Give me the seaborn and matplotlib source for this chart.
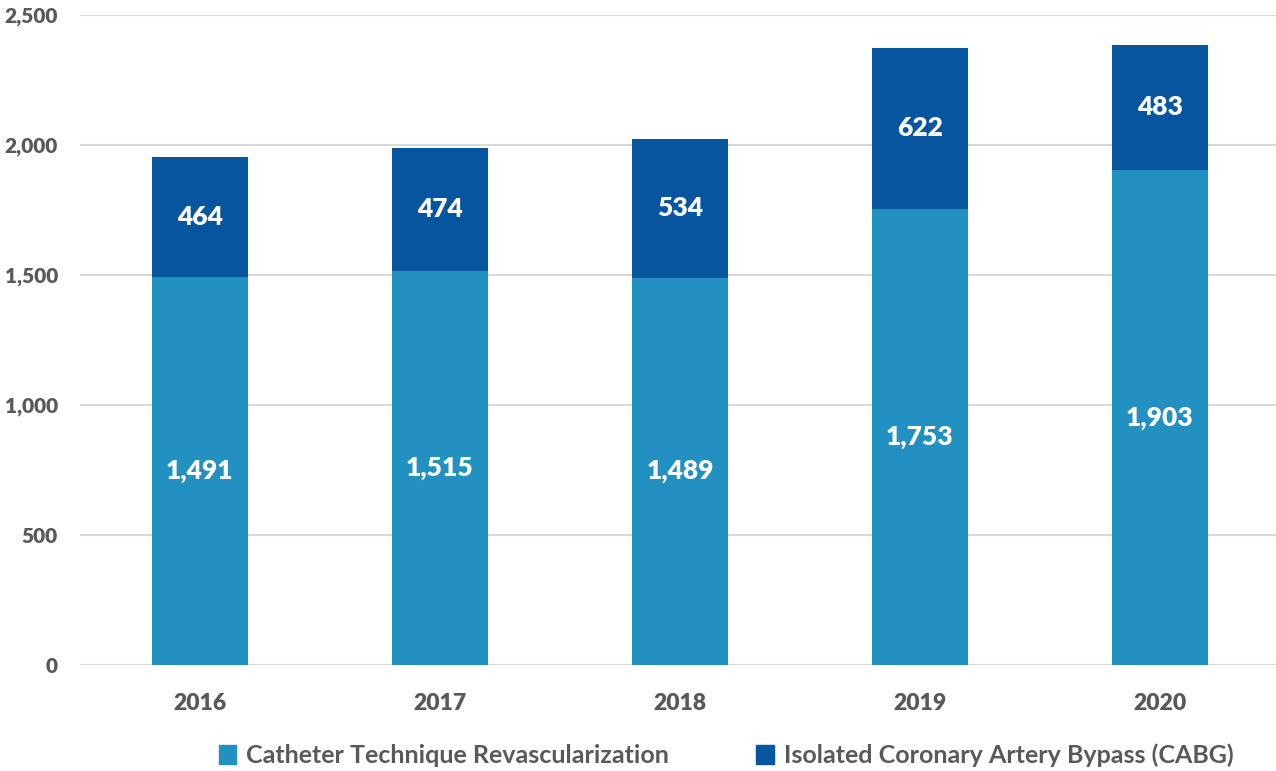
import pandas as pd
import numpy as np
import matplotlib
matplotlib.use("Agg")
import matplotlib.pyplot as plt
import seaborn as sns
from matplotlib.ticker import FuncFormatter
from matplotlib.patches import Patch

# data
years = ["2016", "2017", "2018", "2019", "2020"]
catheter = [1491, 1515, 1489, 1753, 1903]
cabg = [464, 474, 534, 622, 483]
series_names = ["Catheter Technique Revascularization",
                "Isolated Coronary Artery Bypass (CABG)"]

light = "#2290C1"
dark = "#07559F"
grey = "#595959"

df = pd.DataFrame({"year": years, "catheter": catheter, "cabg": cabg})
df["total"] = df["catheter"] + df["cabg"]

sns.set_style("white")
plt.rcParams["font.family"] = ["Lato", "DejaVu Sans"]

fig = plt.figure(figsize=(12.76, 7.71), dpi=100)
ax = fig.add_axes([80 / 1276, 106 / 771, 1200 / 1276, 650 / 771])

# top series drawn as the full stack, bottom series on top of it
sns.barplot(data=df, x="year", y="total", color=dark, width=0.4,
            saturation=1, linewidth=0, ax=ax, zorder=3)
sns.barplot(data=df, x="year", y="catheter", color=light, width=0.4,
            saturation=1, linewidth=0, ax=ax, zorder=3)

for i, row in df.iterrows():
    ax.text(i, row["catheter"] / 2, f"{row['catheter']:,}", ha="center",
            va="center", color="white", fontsize=19, fontweight="heavy", zorder=4)
    ax.text(i, row["catheter"] + row["cabg"] / 2, f"{row['cabg']:,}",
            ha="center", va="center", color="white", fontsize=19,
            fontweight="heavy", zorder=4)

ax.set_ylim(0, 2500)
ax.set_xlim(-0.5, 4.5)
ax.set_yticks(np.arange(0, 2501, 500))
ax.yaxis.set_major_formatter(FuncFormatter(lambda v, p: f"{int(v):,}"))
ax.grid(axis="y", color="#D9D9D9", linewidth=1.5, zorder=0)
ax.set_axisbelow(True)
for s in ax.spines.values():
    s.set_visible(False)
ax.set_xlabel("")
ax.set_ylabel("")
ax.tick_params(axis="both", length=0, labelcolor=grey)
ax.tick_params(axis="y", pad=16, labelsize=15)
ax.tick_params(axis="x", pad=20, labelsize=16.5)
for lab in ax.get_xticklabels() + ax.get_yticklabels():
    lab.set_fontweight("heavy")

handles = [Patch(color=light), Patch(color=dark)]
fig.legend(handles, series_names, loc="center", ncol=2,
           bbox_to_anchor=(726 / 1276, 1 - 755 / 771), frameon=False,
           handlelength=0.7, handleheight=0.8, handletextpad=0.4,
           columnspacing=3.5, prop={"size": 18, "weight": "bold"},
           labelcolor=grey)

fig.savefig("out.png", dpi=100)
